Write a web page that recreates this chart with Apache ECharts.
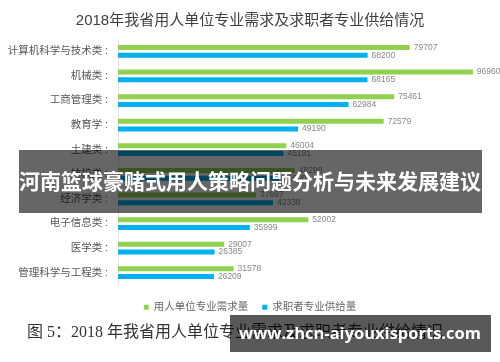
<!DOCTYPE html>
<html>
<head>
<meta charset="utf-8">
<script src="https://cdn.jsdelivr.net/npm/echarts@6/dist/echarts.min.js"></script>
<style>
html,body{margin:0;padding:0;background:#fff;}
#main{width:500px;height:362px;}
</style>
</head>
<body>
<div id="main"></div>
<script>
var categories = ['计算机科学与技术类','机械类','工商管理类','教育学','土建类','技校类','经济学类','电子信息类','医学类','管理科学与工程类'];
var demand = [79707, 96960, 75461, 72579, 46004, 48298, 37697, 52002, 29007, 31578];
var supply = [68200, 68165, 62984, 49190, 45191, 44000, 42338, 35999, 26385, 26209];
var seriesNames = ['用人单位专业需求量','求职者专业供给量'];
var titleText = '2018年我省用人单位专业需求及求职者专业供给情况';
var captionText = '图 5：2018 年我省用人单位专业需求及求职者专业供给情况';
var bannerText = '河南篮球豪赌式用人策略问题分析与未来发展建议';
var watermarkText = 'www.zhcn-aiyouxisports.com';

var FONT = '"Liberation Sans", "Noto Sans CJK SC", sans-serif';
var chart = echarts.init(document.getElementById('main'));
var valLabel = {
  show: true, position: 'right', distance: 4,
  color: '#888', fontSize: 8.5, fontFamily: FONT
};
chart.setOption({
  animation: false,
  backgroundColor: '#fff',
  title: {
    text: titleText, left: 'center', top: 8,
    textStyle: {fontSize: 15, fontWeight: 'normal', color: '#404040', fontFamily: FONT}
  },
  legend: {
    data: seriesNames, left: 'center', top: 297,
    icon: 'rect', itemWidth: 5, itemHeight: 5, itemGap: 14,
    textStyle: {fontSize: 10.5, color: '#666', fontFamily: FONT}
  },
  grid: {left: 118, right: 16, top: 39, bottom: 77, containLabel: false},
  xAxis: {
    type: 'value', min: 0, max: 100000, show: false
  },
  yAxis: {
    type: 'category', data: categories, inverse: true,
    axisLine: {show: true, lineStyle: {color: '#e3e3e3', width: 1}},
    axisTick: {show: false},
    axisLabel: {
      formatter: '{value} :', fontSize: 10.5, color: '#555', margin: 10, fontFamily: FONT
    }
  },
  series: [
    {name: seriesNames[0], type: 'bar', data: demand, barWidth: 5, barGap: '55%',
     itemStyle: {color: '#92d050'}, label: valLabel},
    {name: seriesNames[1], type: 'bar', data: supply, barWidth: 5,
     itemStyle: {color: '#00b0f0'}, label: valLabel}
  ],
  graphic: [
    {type: 'text', left: 27, top: 325, z: 90,
     style: {text: captionText, fill: '#333',
             font: '16px "Liberation Serif", "Noto Sans CJK SC", serif'}},
    {type: 'rect', shape: {x: 19, y: 150, width: 463, height: 63}, z: 100,
     style: {fill: 'rgba(0,0,0,0.6)'}},
    {type: 'text', x: 250, y: 181, z: 101,
     style: {text: bannerText, fill: '#fff', textAlign: 'center', textVerticalAlign: 'middle',
             font: 'bold 21px "Noto Sans CJK SC", sans-serif'}},
    {type: 'rect', shape: {x: 230, y: 315, width: 261, height: 37}, z: 100,
     style: {fill: 'rgba(0,0,0,0.65)'}},
    {type: 'text', x: 360, y: 334, z: 101,
     style: {text: watermarkText, fill: '#fff', textAlign: 'center', textVerticalAlign: 'middle',
             font: 'bold 16.5px "Open Sans", "DejaVu Sans", sans-serif'}}
  ]
});
</script>
</body>
</html>
